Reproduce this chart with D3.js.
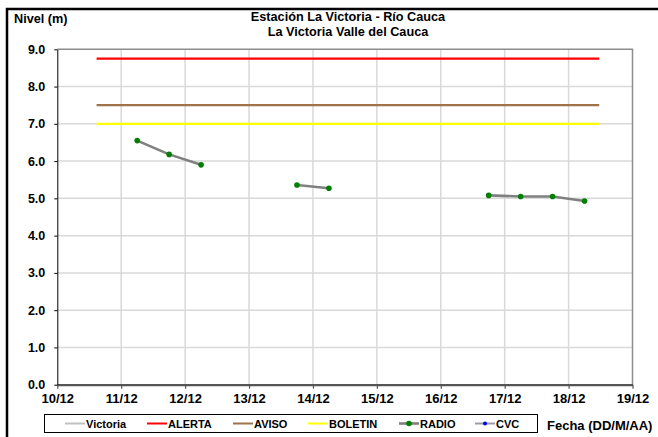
<!DOCTYPE html>
<html>
<head>
<meta charset="utf-8">
<script src="https://cdn.jsdelivr.net/npm/d3@7"></script>
<style>
  body { margin: 0; background: #fff; }
  svg text { font-family: "Liberation Sans", Arial, sans-serif; font-weight: bold; fill: #000; }
</style>
</head>
<body>
<svg id="chart" width="658" height="437"></svg>
<script>
// Data

const dayTicks = ["2022-12-10", "2022-12-11", "2022-12-12", "2022-12-13", "2022-12-14",
    "2022-12-15", "2022-12-16", "2022-12-17", "2022-12-18", "2022-12-19"];

const levelTicks = [0, 1, 2, 3, 4, 5, 6, 7, 8, 9];

// readings every 12 h, null where the station sent nothing
const radioTimes = ["2022-12-11T06:00", "2022-12-11T18:00", "2022-12-12T06:00", "2022-12-12T18:00",
    "2022-12-13T06:00", "2022-12-13T18:00", "2022-12-14T06:00", "2022-12-14T18:00",
    "2022-12-15T06:00", "2022-12-15T18:00", "2022-12-16T06:00", "2022-12-16T18:00",
    "2022-12-17T06:00", "2022-12-17T18:00", "2022-12-18T06:00"];
const radioValues = [6.55, 6.18, 5.90, null, null, 5.36, 5.27, null, null, null, null, 5.08, 5.05, 5.05, 4.93];

const thresholdSpan = ["2022-12-10T14:45", "2022-12-18T11:30"];
const thresholdNames = ["ALERTA", "AVISO", "BOLETIN"];
const thresholdValues = [8.75, 7.5, 7.0];
const thresholdColors = ["#ff0000", "#a0724a", "#ffff00"];

const legendNames = ["Victoria", "ALERTA", "AVISO", "BOLETIN", "RADIO", "CVC"];

// Layout

const svg = d3.select("#chart");
const p = { left: 57.3, right: 632.5, top: 49.3, bottom: 384.7 };
const parse = d3.utcParse("%Y-%m-%dT%H:%M");
const parseDay = d3.utcParse("%Y-%m-%d");

const x = d3.scaleUtc()
    .domain([parseDay(dayTicks[0]), parseDay(dayTicks[dayTicks.length - 1])])
    .range([p.left, p.right]);

const y = d3.scaleLinear()
    .domain([0, 9])
    .range([p.bottom, p.top]);

// outer frame (only left and top are inside the picture)
svg.append("rect")
    .attr("x", 7).attr("y", 9)
    .attr("width", 700).attr("height", 500)
    .attr("fill", "none")
    .attr("stroke", "#000")
    .attr("stroke-width", 2.5);

// grid
svg.append("g")
    .selectAll("line")
    .data(levelTicks.slice(1, -1))
    .join("line")
    .attr("x1", p.left).attr("x2", p.right)
    .attr("y1", d => y(d)).attr("y2", d => y(d))
    .attr("stroke", "#d9d9d9")
    .attr("stroke-width", 1.5);

svg.append("g")
    .selectAll("line")
    .data(dayTicks.slice(1, -1).map(parseDay))
    .join("line")
    .attr("x1", d => x(d)).attr("x2", d => x(d))
    .attr("y1", p.top).attr("y2", p.bottom)
    .attr("stroke", "#d9d9d9")
    .attr("stroke-width", 1.5);

// top and right border of the plot
svg.append("path")
    .attr("d", `M${p.left},${p.top}H${p.right}V${p.bottom}`)
    .attr("fill", "none")
    .attr("stroke", "#8c8c8c")
    .attr("stroke-width", 1.5);

// axes
const xAxis = svg.append("g")
    .attr("transform", `translate(0,${p.bottom})`)
    .call(d3.axisBottom(x)
        .tickValues(dayTicks.map(parseDay))
        .tickFormat(d3.utcFormat("%d/%m"))
        .tickSize(4)
        .tickSizeOuter(0));

xAxis.select(".domain").attr("stroke", "#555").attr("stroke-width", 2.2);
xAxis.selectAll(".tick line").attr("stroke", "#555").attr("stroke-width", 1.2);
xAxis.selectAll(".tick text")
    .attr("y", 9)
    .style("font-size", "13px")
    .style("font-family", "Liberation Sans, Arial, sans-serif");

const yAxis = svg.append("g")
    .attr("transform", `translate(${p.left},0)`)
    .call(d3.axisLeft(y)
        .tickValues(levelTicks)
        .tickFormat(d3.format(".1f"))
        .tickSize(3)
        .tickSizeOuter(0));

yAxis.select(".domain").attr("stroke", "#000").attr("stroke-width", 1);
yAxis.selectAll(".tick line").attr("stroke", "#000");
yAxis.selectAll(".tick text")
    .attr("x", -12)
    .style("font-size", "12.5px")
    .style("font-family", "Liberation Sans, Arial, sans-serif");

// thresholds
thresholdValues.forEach((v, i) => {
    svg.append("line")
        .attr("x1", x(parse(thresholdSpan[0])))
        .attr("x2", x(parse(thresholdSpan[1])))
        .attr("y1", y(v)).attr("y2", y(v))
        .attr("stroke", thresholdColors[i])
        .attr("stroke-width", 2.2);
});

// radio series
const radio = radioTimes.map((t, i) => ({ t: parse(t), v: radioValues[i] }));

svg.append("path")
    .datum(radio)
    .attr("fill", "none")
    .attr("stroke", "#808080")
    .attr("stroke-width", 2.6)
    .attr("d", d3.line()
        .defined(d => d.v !== null)
        .x(d => x(d.t))
        .y(d => y(d.v)));

svg.append("g")
    .selectAll("circle")
    .data(radio.filter(d => d.v !== null))
    .join("circle")
    .attr("cx", d => x(d.t))
    .attr("cy", d => y(d.v))
    .attr("r", 2.8)
    .attr("fill", "#008000");

// titles
svg.append("text")
    .attr("x", 348).attr("y", 21)
    .attr("text-anchor", "middle")
    .style("font-size", "12.7px")
    .text("Estación La Victoria - Río Cauca");

svg.append("text")
    .attr("x", 348).attr("y", 35.5)
    .attr("text-anchor", "middle")
    .style("font-size", "12.7px")
    .text("La Victoria Valle del Cauca");

svg.append("text")
    .attr("x", 14).attr("y", 23)
    .style("font-size", "12.7px")
    .text("Nivel (m)");

svg.append("text")
    .attr("x", 547).attr("y", 430)
    .style("font-size", "13px")
    .text("Fecha (DD/M/AA)");

// legend
svg.append("rect")
    .attr("x", 44.5).attr("y", 414.5)
    .attr("width", 493).attr("height", 18)
    .attr("fill", "#fff")
    .attr("stroke", "#000")
    .attr("stroke-width", 1);

const legendX = [65, 147, 233, 308, 399, 475];
const legendColors = ["#c0c0c0", "#ff0000", "#a0724a", "#ffff00", "#808080", "#9a9aa8"];
const legendDots = [null, null, null, null, "#008000", "#0000ff"];

legendNames.forEach((name, i) => {
    const g = svg.append("g").attr("transform", `translate(${legendX[i]},423.5)`);
    g.append("line")
        .attr("x1", 0).attr("x2", 20)
        .attr("stroke", legendColors[i])
        .attr("stroke-width", i === 4 ? 2.6 : 2);
    if (legendDots[i]) {
        g.append("circle")
            .attr("cx", 10).attr("r", i === 4 ? 2.8 : 2)
            .attr("fill", legendDots[i]);
    }
    g.append("text")
        .attr("x", 21).attr("y", 4)
        .style("font-size", "11px")
        .text(name);
});
</script>
</body>
</html>
